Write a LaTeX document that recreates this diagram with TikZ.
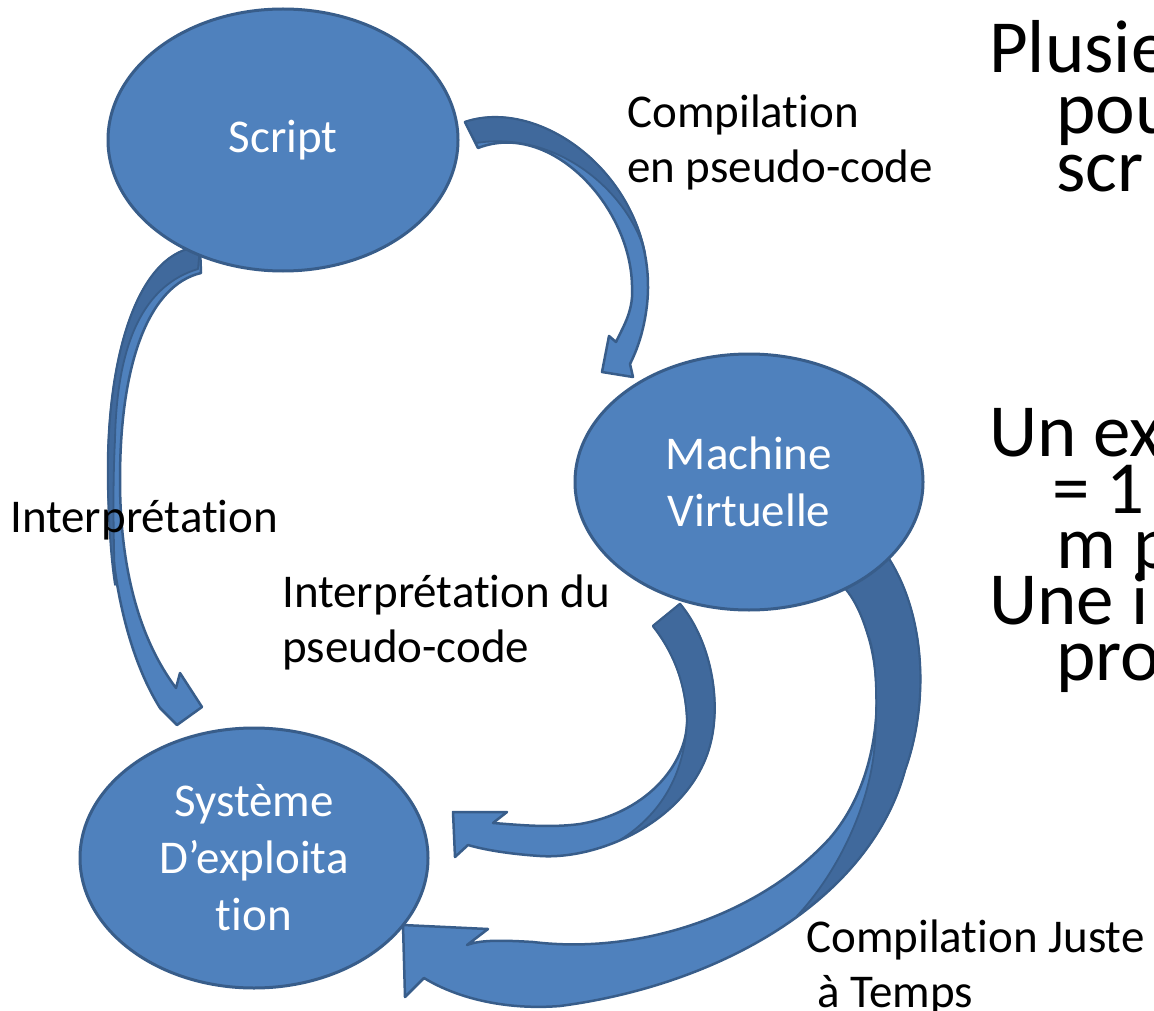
\documentclass[tikz,border=0pt]{standalone}
\usepackage{fontspec}
\setmainfont{Carlito}[Ligatures=NoCommon]
\usetikzlibrary{shapes.geometric}
\definecolor{fillblue}{HTML}{4F81BD}
\definecolor{lineblue}{HTML}{385D8A}
\definecolor{darkblue}{HTML}{40699C}
\begin{document}
\begin{tikzpicture}[x=1pt,y=-1pt,
  bubble/.style={ellipse, draw=lineblue, line width=3pt, fill=fillblue, text=white, align=center, font=\fontsize{47}{57}\selectfont, inner sep=0pt},
  lbl/.style={anchor=base west, font=\fontsize{47}{56}\selectfont, inner sep=0pt, text=black},
  big/.style={anchor=base west, font=\fontsize{75}{60}\selectfont, inner sep=0pt, text=black},
  band/.style={fill=fillblue, draw=lineblue, line width=2.5pt, line join=round},
  back/.style={fill=darkblue, draw=lineblue, line width=1.8pt, line join=round}]
\useasboundingbox (0,0) rectangle (1154,1011);
\clip (0,0) rectangle (1154,1011);
\fill[white] (0,0) rectangle (1154,1011);

% Arrow 1: Script -> Machine Virtuelle
\path[band] (465,122) .. controls (545,95) and (660,185) .. (647,305)
  .. controls (644,330) and (638,348) .. (630,364)
  -- (633,377) -- (602,372) -- (609,336) -- (616,342)
  .. controls (624,325) and (634,310) .. (632,285)
  .. controls (630,205) and (550,120) .. (478,148) -- cycle;
\path[back] (465,122) .. controls (533,99) and (626,161) .. (645,253)
  .. controls (630,195) and (560,130) .. (476,143) -- cycle;

% Arrow 2: Script -> Systeme (Interpretation)
\path[band] (200,247) .. controls (140,250) and (108,350) .. (108,470)
  .. controls (108,580) and (130,660) .. (160,708)
  -- (177,725) -- (202,707) -- (180,673) -- (176,688)
  .. controls (140,640) and (120,570) .. (120,480)
  .. controls (120,360) and (150,285) .. (201,273) -- cycle;
\path[back] (200,247) .. controls (140,250) and (108,350) .. (108,470)
  .. controls (108,520) and (111,560) .. (115,585)
  .. controls (113,520) and (113,480) .. (115,440)
  .. controls (117,340) and (145,285) .. (198,269) -- cycle;

% Arrow 3: Machine -> Systeme (pseudo-code)
\path[band] (680,604) .. controls (710,640) and (722,700) .. (710,745)
  .. controls (690,820) and (600,860) .. (540,856)
  .. controls (510,854) and (485,850) .. (468,845)
  -- (455,857) -- (453,812) -- (507,812) -- (493,823)
  .. controls (520,825) and (550,828) .. (580,824)
  .. controls (650,812) and (690,760) .. (687,715)
  .. controls (685,680) and (672,650) .. (653,626) -- cycle;
\path[back] (680,604) .. controls (710,640) and (722,700) .. (710,745)
  .. controls (698,790) and (661,822) .. (620,840)
  .. controls (660,815) and (685,775) .. (687,720)
  .. controls (685,680) and (672,650) .. (653,626) -- cycle;

% Arrow 4: Machine -> Systeme (JIT)
\path[band] (885,553) .. controls (925,610) and (930,700) .. (905,770)
  .. controls (870,900) and (720,985) .. (560,1006)
  .. controls (510,1010) and (460,1000) .. (424,978)
  -- (405,997) -- (403,925) -- (488,929) -- (467,945)
  .. controls (480,940) and (500,940) .. (533,942)
  .. controls (640,955) and (760,915) .. (830,838)
  .. controls (880,780) and (885,690) .. (868,635)
  .. controls (862,615) and (855,600) .. (845,588) -- cycle;
\path[back] (885,553) .. controls (925,610) and (930,700) .. (905,770)
  .. controls (889,829) and (850,878) .. (797,916)
  .. controls (840,870) and (872,800) .. (875,740)
  .. controls (878,690) and (875,650) .. (868,635)
  .. controls (862,615) and (855,600) .. (845,588) -- cycle;

% Ellipses
\node[bubble, minimum width=350pt, minimum height=262pt] (script) at (283,140) {Script};
\node[bubble, minimum width=348pt, minimum height=256pt] (vm) at (749,482) {Machine\\Virtuelle};
\node[bubble, minimum width=348pt, minimum height=260pt] (os) at (254,858) {Système\\D’exploita\\tion};

% Labels
\node[lbl] (l1a) at (627,128) {Compilation};
\node[lbl] (l1b) at (627,183) {en pseudo-code};
\node[lbl] (l2) at (10,532) {Interprétation};
\node[lbl] (l3a) at (282,607) {Interprétation du};
\node[lbl] (l3b) at (282,662) {pseudo-code};
\node[lbl] (l4a) at (806,952) {Compilation Juste};
\node[lbl] (l4b) at (817,1007) {à Temps};

% Right-hand text (cut by the frame)
\node[big] (r1) at (989,73) {Plusie};
\node[big] (r2) at (1056,134) {pou};
\node[big] (r3) at (1056,192) {scr};
\node[big] (r4) at (989,456) {Un ex};
\node[big] (r5) at (1052,513) {= 1};
\node[big] (r6) at (1056,568) {m p};
\node[big] (r7) at (989,624) {Une i};
\node[big] (r8) at (1056,680) {pro};
\end{tikzpicture}
\end{document}
